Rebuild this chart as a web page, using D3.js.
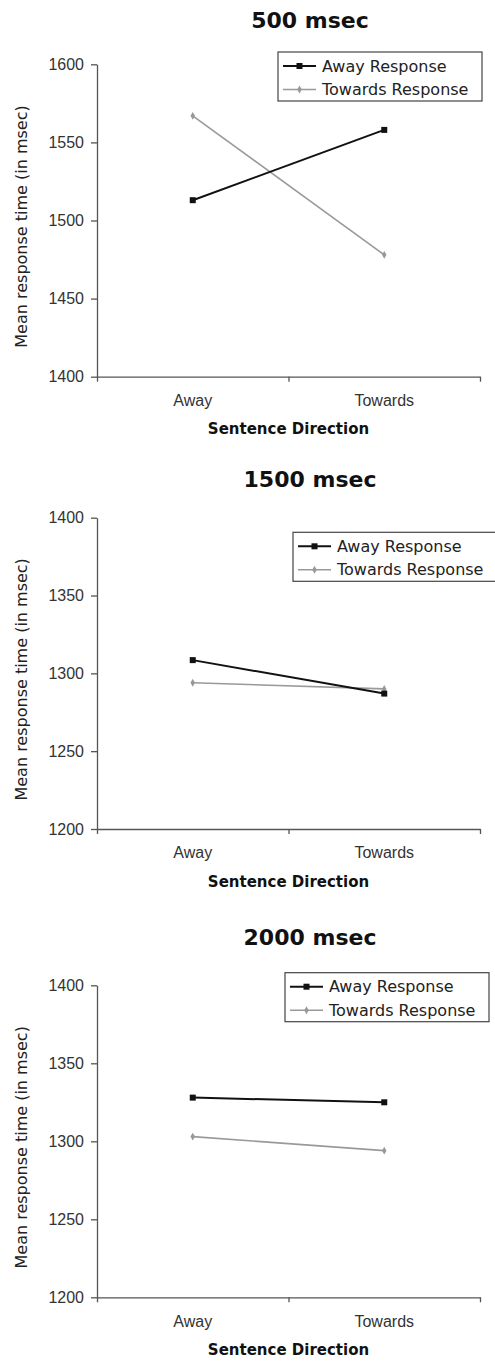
<!DOCTYPE html>
<html>
<head>
<meta charset="utf-8">
<script src="https://cdn.jsdelivr.net/npm/d3@7"></script>
<style>
  body { margin: 0; background: #fff; }
  svg { display: block; font-family: "DejaVu Sans", Verdana, sans-serif; }
  .axis path, .axis line { stroke: #555; stroke-width: 1.3; }
  .axis text { fill: #333; }
</style>
</head>
<body>
<div id="chart"></div>
<script>
// data
var categories = ["Away", "Towards"];
var seriesNames = ["Away Response", "Towards Response"];
var panelTitles = ["500 msec", "1500 msec", "2000 msec"];

var away500 = [1513, 1558];
var towards500 = [1567, 1478];
var away1500 = [1308.5, 1287];
var towards1500 = [1294, 1290];
var away2000 = [1328, 1325];
var towards2000 = [1303, 1294];

var yTicks500 = [1400, 1450, 1500, 1550, 1600];
var yTicksLater = [1200, 1250, 1300, 1350, 1400];

var xTitle = "Sentence Direction";
var yTitle = "Mean response time (in msec)";

// page layout
var width = 495, height = 1363;
var left = 97, right = 480;

var panels = [
	{ title: panelTitles[0], away: away500, towards: towards500, ticks: yTicks500,
	  titleY: 28, top: 64.3, bottom: 376.7, legendX: 278, legendY: 52 },
	{ title: panelTitles[1], away: away1500, towards: towards1500, ticks: yTicksLater,
	  titleY: 486.7, top: 517.7, bottom: 829, legendX: 293, legendY: 532.3 },
	{ title: panelTitles[2], away: away2000, towards: towards2000, ticks: yTicksLater,
	  titleY: 945, top: 985.3, bottom: 1297.3, legendX: 285, legendY: 972.7 }
];

var styles = [
	{ color: "#111", width: 2, marker: "square" },
	{ color: "#999", width: 1.6, marker: "diamond" }
];

var svg = d3.select("#chart").append("svg")
	.attr("width", width)
	.attr("height", height);

var x = d3.scaleBand().domain(categories).range([left, right]).padding(0);

function drawMarker(g, style, cx, cy) {
	if (style.marker == "square") {
		g.append("rect")
			.attr("x", cx - 3).attr("y", cy - 3)
			.attr("width", 6).attr("height", 6)
			.attr("fill", style.color);
	} else {
		g.append("path")
			.attr("d", d3.symbol().type(d3.symbolDiamond).size(18)())
			.attr("transform", "translate(" + cx + "," + cy + ")")
			.attr("fill", style.color);
	}
}

panels.forEach(function(p) {

	var y = d3.scaleLinear()
		.domain([p.ticks[0], p.ticks[p.ticks.length - 1]])
		.range([p.bottom, p.top]);

	var g = svg.append("g");

	// title
	g.append("text")
		.attr("x", 310)
		.attr("y", p.titleY)
		.attr("text-anchor", "middle")
		.style("font-size", "22px")
		.style("font-weight", "bold")
		.attr("fill", "#111")
		.text(p.title);

	// y axis
	g.append("g")
		.attr("class", "axis")
		.attr("transform", "translate(" + left + ",0)")
		.call(d3.axisLeft(y).tickValues(p.ticks).tickFormat(d3.format("d"))
			.tickSize(6).tickSizeOuter(0).tickPadding(7))
		.selectAll("text").style("font-size", "16px");

	// x axis: ticks at band edges, labels at band centres
	var edges = d3.scaleLinear().domain([0, categories.length]).range([left, right]);
	g.append("g")
		.attr("class", "axis")
		.attr("transform", "translate(0," + p.bottom + ")")
		.call(d3.axisBottom(edges).tickValues(d3.range(categories.length + 1))
			.tickSize(5).tickSizeOuter(0).tickFormat(""));

	g.append("g")
		.attr("class", "axis")
		.attr("transform", "translate(0," + p.bottom + ")")
		.call(d3.axisBottom(x).tickSize(0).tickPadding(18))
		.call(function(a) { a.select(".domain").remove(); })
		.selectAll("text").style("font-size", "16px");

	// axis titles
	g.append("text")
		.attr("x", (left + right) / 2)
		.attr("y", p.bottom + 57.5)
		.attr("text-anchor", "middle")
		.style("font-size", "15px")
		.style("font-weight", "bold")
		.attr("fill", "#111")
		.text(xTitle);

	g.append("text")
		.attr("transform", "translate(27," + ((p.top + p.bottom) / 2 + 6) + ") rotate(-90)")
		.attr("text-anchor", "middle")
		.style("font-size", "16px")
		.attr("fill", "#222")
		.text(yTitle);

	// series lines, towards drawn first so the black one sits on top
	var line = d3.line()
		.x(function(d, i) { return x(categories[i]) + x.bandwidth() / 2; })
		.y(function(d) { return y(d); });

	[p.towards, p.away].forEach(function(vals, k) {
		var s = styles[1 - k];
		g.append("path")
			.datum(vals)
			.attr("fill", "none")
			.attr("stroke", s.color)
			.attr("stroke-width", s.width)
			.attr("d", line);
		vals.forEach(function(v, i) {
			drawMarker(g, s, x(categories[i]) + x.bandwidth() / 2, y(v));
		});
	});

	// legend
	var lg = g.append("g").attr("transform", "translate(" + p.legendX + "," + p.legendY + ")");
	lg.append("rect")
		.attr("width", 204).attr("height", 49)
		.attr("fill", "#fff")
		.attr("stroke", "#444")
		.attr("stroke-width", 1.2);

	seriesNames.forEach(function(name, i) {
		var s = styles[i];
		var ry = 14 + i * 23.5;
		lg.append("line")
			.attr("x1", 5).attr("x2", 38)
			.attr("y1", ry).attr("y2", ry)
			.attr("stroke", s.color)
			.attr("stroke-width", s.width);
		drawMarker(lg, s, 21.5, ry);
		lg.append("text")
			.attr("x", 44)
			.attr("y", ry + 5.5)
			.style("font-size", "16px")
			.attr("fill", "#222")
			.text(name);
	});
});
</script>
</body>
</html>
